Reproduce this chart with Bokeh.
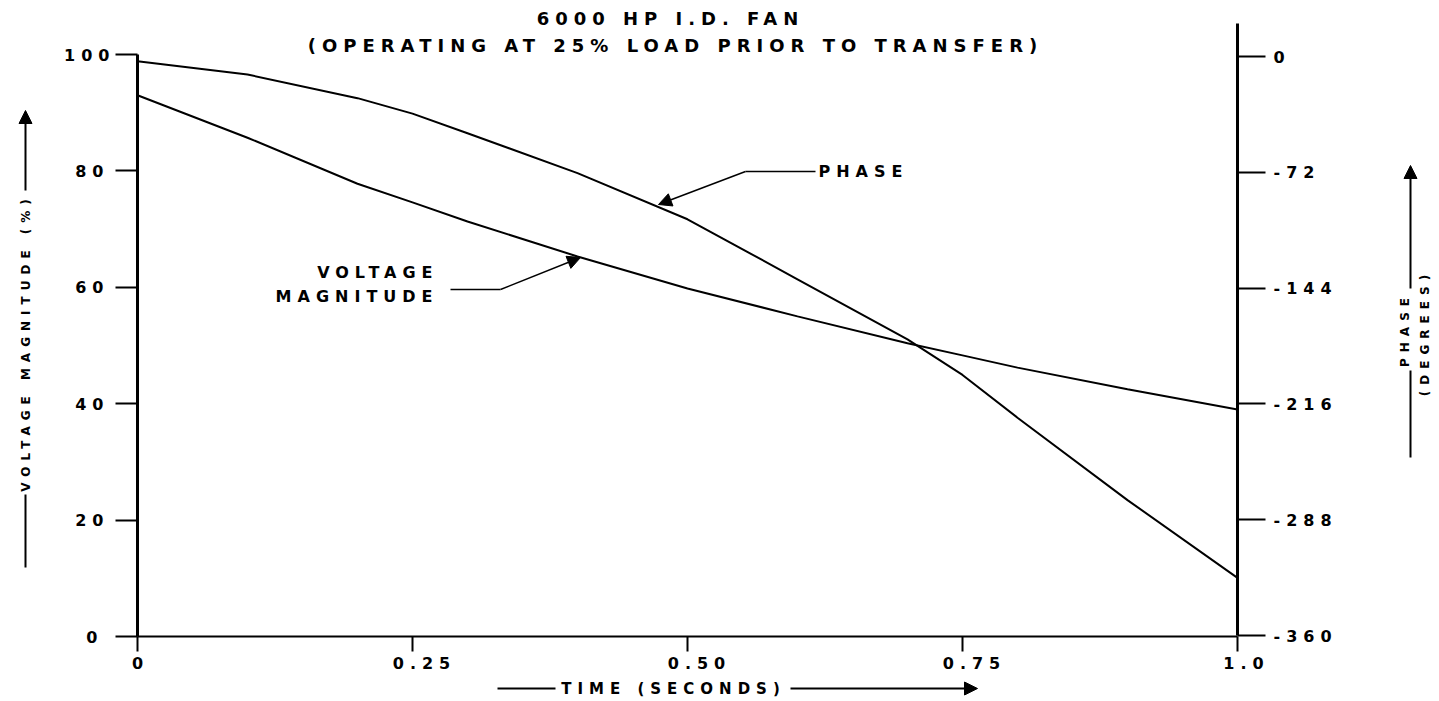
import math
from bokeh.plotting import figure
from bokeh.models import (Range1d, LinearAxis, FixedTicker, Label, Arrow,
                          NormalHead, InlineStyleSheet)
from bokeh.embed import file_html
from bokeh.resources import INLINE

# ---------------- data ----------------
time_s = [0.0, 0.1, 0.2, 0.25, 0.3, 0.4, 0.5, 0.6, 0.7, 0.75, 0.8, 0.9, 1.0]
voltage_pct = [93.0, 85.7, 77.8, 74.6, 71.3, 65.3, 59.8, 55.0, 50.4, 48.3, 46.2, 42.5, 39.0]
phase_deg = [-3.0, -11.2, -25.9, -35.5, -47.7, -72.5, -101.2, -138.5, -175.9, -198.0, -224.6, -275.8, -324.2]

x_ticks = [0, 0.25, 0.5, 0.75, 1.0]
x_tick_labels = ["0", "0.25", "0.50", "0.75", "1.0"]
left_ticks = [0, 20, 40, 60, 80, 100]
right_ticks = [0, -72, -144, -216, -288, -360]

title1 = "6000 HP I.D. FAN"
title2 = "(OPERATING AT 25% LOAD PRIOR TO TRANSFER)"

# ---------------- layout (pixels) ----------------
FONT = "DejaVu Sans"
SPACING = 6                       # css letter-spacing, px
W, H = 1439, 700
PX_X0, PX_X1 = 137, 1237          # time 0 .. 1
PY_V100, PY_V0 = 54, 636          # voltage 100 .. 0
PY_P0, PY_P360 = 56, 635          # phase 0 .. -360

sx = (PX_X1 - PX_X0) / 1.0
sv = (PY_V0 - PY_V100) / 100.0
sp = (PY_P360 - PY_P0) / 360.0

def X(px):
    return (px - PX_X0) / sx

def Y(py):
    return (PY_V0 - py) / sv

def P(py):
    return -(py - PY_P0) / sp

p = figure(width=W, height=H, output_backend="svg", toolbar_location=None,
           x_range=Range1d(X(0), X(W)), y_range=Range1d(Y(H), Y(0)),
           min_border=0, min_border_left=0, min_border_right=0,
           min_border_top=0, min_border_bottom=0,
           x_axis_location=None, y_axis_location=None)
p.extra_y_ranges = {"phase": Range1d(start=P(H), end=P(0))}
p.outline_line_color = None
p.xgrid.visible = False
p.ygrid.visible = False
p.background_fill_color = "white"
p.border_fill_color = "white"
p.stylesheets = [InlineStyleSheet(css=":host { letter-spacing: %dpx; }" % SPACING)]

def style_axis(ax, tick_out, line_w, standoff):
    ax.axis_line_width = line_w
    ax.axis_line_color = "black"
    ax.major_tick_out = tick_out
    ax.major_tick_in = 0
    ax.major_tick_line_width = 2
    ax.minor_tick_line_color = None
    ax.major_label_text_font = FONT
    ax.major_label_text_font_style = "bold"
    ax.major_label_text_font_size = "16px"
    ax.major_label_text_color = "black"
    ax.major_label_standoff = standoff

xax = LinearAxis(fixed_location=0, bounds=(0, 1), ticker=FixedTicker(ticks=x_ticks),
                 major_label_overrides={t: l for t, l in zip(x_ticks, x_tick_labels)})
style_axis(xax, 15, 2, 5)
p.add_layout(xax, "below")

lax = LinearAxis(fixed_location=0, bounds=(0, 100), ticker=FixedTicker(ticks=left_ticks))
style_axis(lax, 22, 3, 18)
p.add_layout(lax, "left")

rax = LinearAxis(fixed_location=1.0, bounds=(-360, P(23)), y_range_name="phase",
                 ticker=FixedTicker(ticks=right_ticks),
                 major_label_overrides={t: ("-" + str(-t) if t < 0 else "0") for t in right_ticks})
style_axis(rax, 28, 3, 8)
p.add_layout(rax, "right")

# curves
p.line(time_s, voltage_pct, line_color="black", line_width=2)
p.line(time_s, phase_deg, line_color="black", line_width=2, y_range_name="phase")

# ------------- annotations -------------
# Bokeh aligns text without the css letter-spacing, so anchors are compensated
def lbl(px, py, text, size, align="center", angle=0.0):
    n = len(text)
    if align == "center":
        shift = n * SPACING / 2.0
    elif align == "right":
        shift = (n - 1) * SPACING
    else:
        shift = 0.0
    if angle == 0.0:
        px = px - shift
    else:                          # rotated 90 deg: text runs upward
        py = py + shift
    p.add_layout(Label(x=X(px), y=Y(py), text=text, text_font=FONT, text_font_style="bold",
                       text_font_size=size, text_align=align, text_baseline="middle",
                       angle=angle, text_color="black"))

def seg(px0, py0, px1, py1, w=2, head=False):
    p.add_layout(Arrow(x_start=X(px0), y_start=Y(py0), x_end=X(px1), y_end=Y(py1),
                       line_width=w, line_color="black",
                       end=NormalHead(size=13, fill_color="black", line_color="black",
                                      line_width=1) if head else None))

# title
lbl(670, 18, title1, "18px")
lbl(675, 45, title2, "18px")

# curve labels with leaders
lbl(818, 171, "PHASE", "16px", align="left")
seg(815, 171, 745, 171, w=1.5)
seg(745, 171, 658, 204, w=1.5, head=True)

lbl(432, 272, "VOLTAGE", "16px", align="right")
lbl(432, 296, "MAGNITUDE", "16px", align="right")
seg(450, 289, 500, 289, w=1.5)
seg(500, 289, 580, 257, w=1.5, head=True)

# left axis label
lbl(25, 342, "VOLTAGE MAGNITUDE (%)", "12px", angle=math.pi / 2)
seg(25, 190, 25, 110, w=2, head=True)
seg(25, 494, 25, 567, w=2)

# right axis label
lbl(1404, 329, "PHASE", "12px", angle=math.pi / 2)
lbl(1424, 332, "(DEGREES)", "12px", angle=math.pi / 2)
seg(1410, 288, 1410, 165, w=2, head=True)
seg(1410, 370, 1410, 457, w=2)

# x axis label
lbl(673, 688, "TIME (SECONDS)", "15px")
seg(497, 688, 555, 688, w=2)
seg(790, 688, 977, 688, w=2, head=True)

open("out.html", "w").write(file_html(p, INLINE))
